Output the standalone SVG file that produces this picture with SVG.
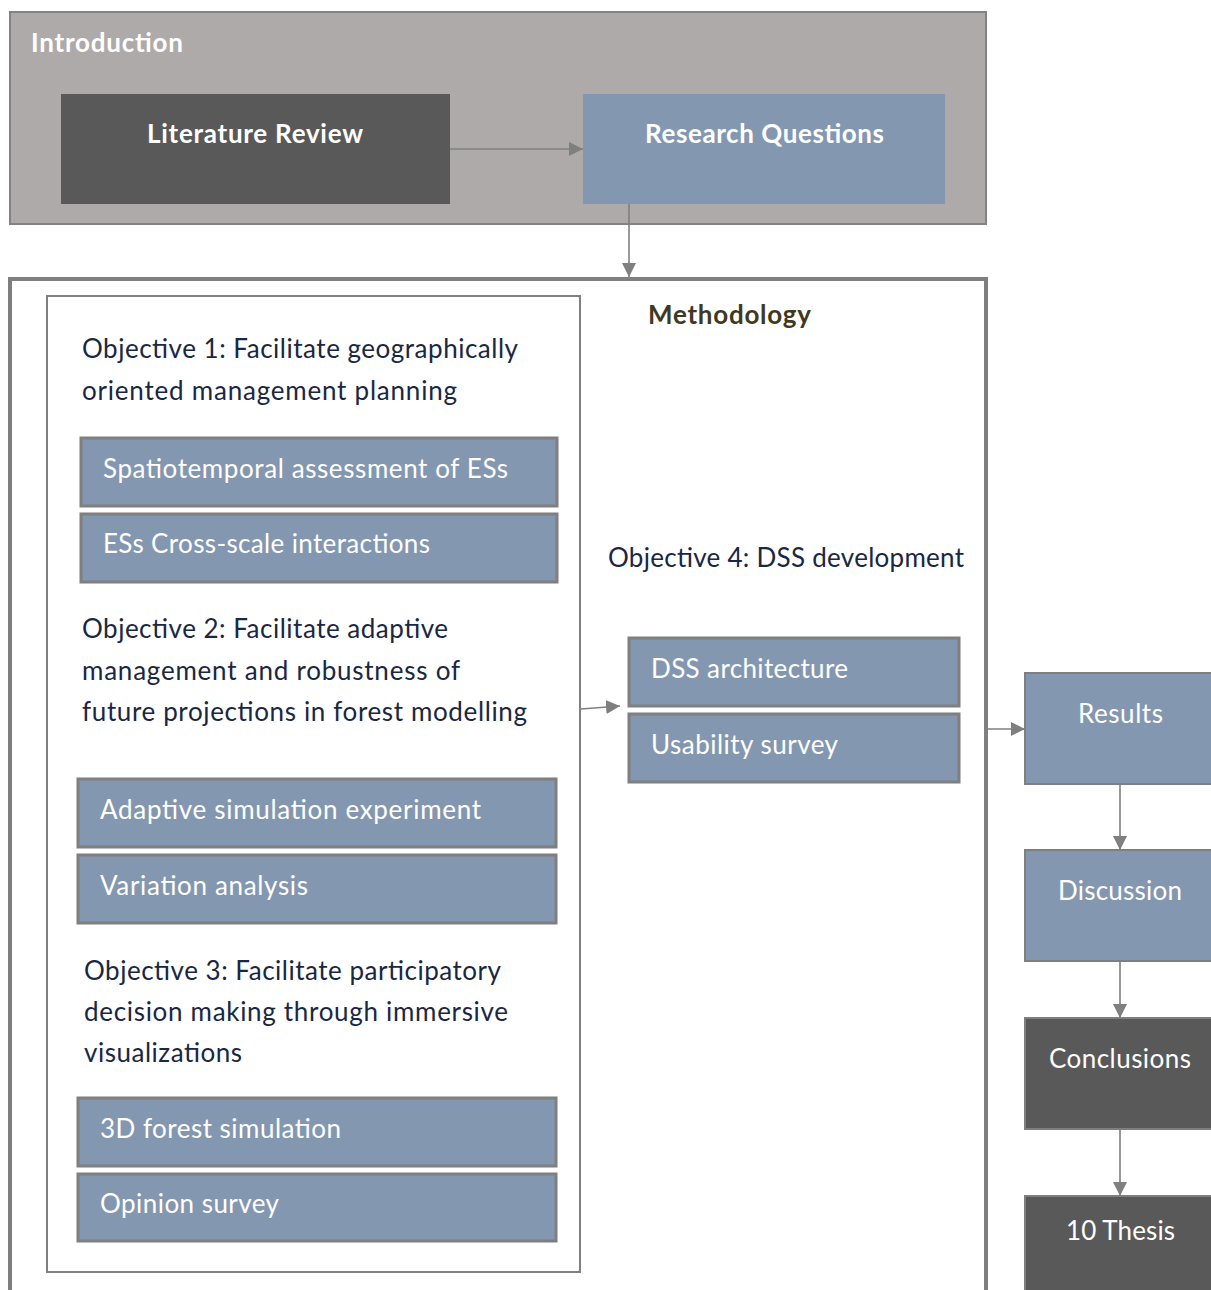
<svg xmlns="http://www.w3.org/2000/svg" width="1211" height="1290" viewBox="0 0 1211 1290">
  <style>
    .t { font-family: Lato, "Open Sans", "Liberation Sans", sans-serif; }
    .head { font-size: 26px; font-weight: bold; fill: #ffffff; }
    .obj { font-size: 26px; fill: #1a2742; }
    .item { font-size: 26px; fill: #ffffff; }
    .blue { fill: #8497b0; }
    .dark { fill: #595959; }
    .sub { fill: #8497b0; stroke: #7f7f7f; stroke-width: 3; }
    .step { stroke: #7f7f7f; stroke-width: 2; }
    .conn { stroke: #7f7f7f; stroke-width: 1.6; fill: none; marker-end: url(#arr); }
  </style>
  <defs>
    <marker id="arr" viewBox="0 0 10 10" refX="10" refY="5" markerWidth="14" markerHeight="14" markerUnits="userSpaceOnUse" orient="auto">
      <path d="M0,0 L10,5 L0,10 z" fill="#7f7f7f"/>
    </marker>
  </defs>
  <rect width="1211" height="1290" fill="#ffffff"/>

  <!-- Introduction container -->
  <g id="introduction">
    <rect x="10" y="12" width="976" height="212" fill="#aeaaaa" stroke="#838383" stroke-width="2"/>
    <text class="t head" x="31" y="52" textLength="152">Introduction</text>
  </g>
  <g id="literature-review">
    <rect class="dark" x="61" y="94" width="389" height="110"/>
    <text class="t head" x="147" y="143" textLength="216">Literature Review</text>
  </g>
  <g id="research-questions">
    <rect class="blue" x="583" y="94" width="362" height="110"/>
    <text class="t head" x="645" y="143" textLength="239">Research Questions</text>
  </g>

  <!-- Methodology container -->
  <g id="methodology">
    <rect x="10" y="279" width="976" height="1030" fill="#ffffff" stroke="#7f7f7f" stroke-width="4"/>
    <text class="t" x="648" y="324" font-size="26" font-weight="bold" fill="#3f3a1f" textLength="163">Methodology</text>
  </g>
  <g id="objectives-1-3">
    <rect x="47" y="296" width="533" height="976" fill="#ffffff" stroke="#808080" stroke-width="2"/>
    <text class="t obj" x="82" y="358" textLength="436">Objective 1: Facilitate geographically</text>
    <text class="t obj" x="82" y="400" textLength="375">oriented management planning</text>
    <text class="t obj" x="82" y="638" textLength="366">Objective 2: Facilitate adaptive</text>
    <text class="t obj" x="82" y="680" textLength="378">management and robustness of</text>
    <text class="t obj" x="82" y="721" textLength="445">future projections in forest modelling</text>
    <text class="t obj" x="84" y="980" textLength="417">Objective 3: Facilitate participatory</text>
    <text class="t obj" x="84" y="1021" textLength="424">decision making through immersive</text>
    <text class="t obj" x="84" y="1062" textLength="158">visualizations</text>
  </g>
  <g id="spatiotemporal">
    <rect class="sub" x="81" y="438" width="476" height="68"/>
    <text class="t item" x="103" y="478" textLength="405">Spatiotemporal assessment of ESs</text>
  </g>
  <g id="cross-scale">
    <rect class="sub" x="81" y="514" width="476" height="68"/>
    <text class="t item" x="103" y="553" textLength="327">ESs Cross-scale interactions</text>
  </g>
  <g id="adaptive-simulation">
    <rect class="sub" x="78" y="779" width="478" height="68"/>
    <text class="t item" x="100" y="819" textLength="381">Adaptive simulation experiment</text>
  </g>
  <g id="variation-analysis">
    <rect class="sub" x="78" y="855" width="478" height="68"/>
    <text class="t item" x="100" y="895" textLength="208">Variation analysis</text>
  </g>
  <g id="forest-3d">
    <rect class="sub" x="78" y="1098" width="478" height="68"/>
    <text class="t item" x="100" y="1138" textLength="241">3D forest simulation</text>
  </g>
  <g id="opinion-survey">
    <rect class="sub" x="78" y="1174" width="478" height="67"/>
    <text class="t item" x="100" y="1213" textLength="179">Opinion survey</text>
  </g>

  <g id="objective-4">
    <text class="t obj" x="608" y="567" textLength="356">Objective 4: DSS development</text>
  </g>
  <g id="dss-architecture">
    <rect class="sub" x="629" y="638" width="330" height="68"/>
    <text class="t item" x="651" y="678" textLength="197">DSS architecture</text>
  </g>
  <g id="usability-survey">
    <rect class="sub" x="629" y="714" width="330" height="68"/>
    <text class="t item" x="651" y="754" textLength="187">Usability survey</text>
  </g>

  <!-- Outcome chain -->
  <g id="results">
    <rect class="blue step" x="1025" y="673" width="200" height="111"/>
    <text class="t item" x="1078" y="723" textLength="85">Results</text>
  </g>
  <g id="discussion">
    <rect class="blue step" x="1025" y="850" width="200" height="111"/>
    <text class="t item" x="1058" y="900" textLength="124">Discussion</text>
  </g>
  <g id="conclusions">
    <rect class="dark step" x="1025" y="1018" width="200" height="111"/>
    <text class="t item" x="1049" y="1068" textLength="142">Conclusions</text>
  </g>
  <g id="thesis">
    <rect class="dark step" x="1025" y="1196" width="200" height="120"/>
    <text class="t item" x="1066" y="1240" textLength="109">10 Thesis</text>
  </g>

  <!-- Connectors -->
  <g id="connectors">
    <line class="conn" x1="450" y1="149" x2="583" y2="149"/>
    <line class="conn" x1="629" y1="204" x2="629" y2="277"/>
    <line class="conn" x1="581" y1="709" x2="620" y2="706"/>
    <line class="conn" x1="988" y1="729" x2="1025" y2="729"/>
    <line class="conn" x1="1120" y1="785" x2="1120" y2="850"/>
    <line class="conn" x1="1120" y1="962" x2="1120" y2="1018"/>
    <line class="conn" x1="1120" y1="1130" x2="1120" y2="1196"/>
  </g>
</svg>
